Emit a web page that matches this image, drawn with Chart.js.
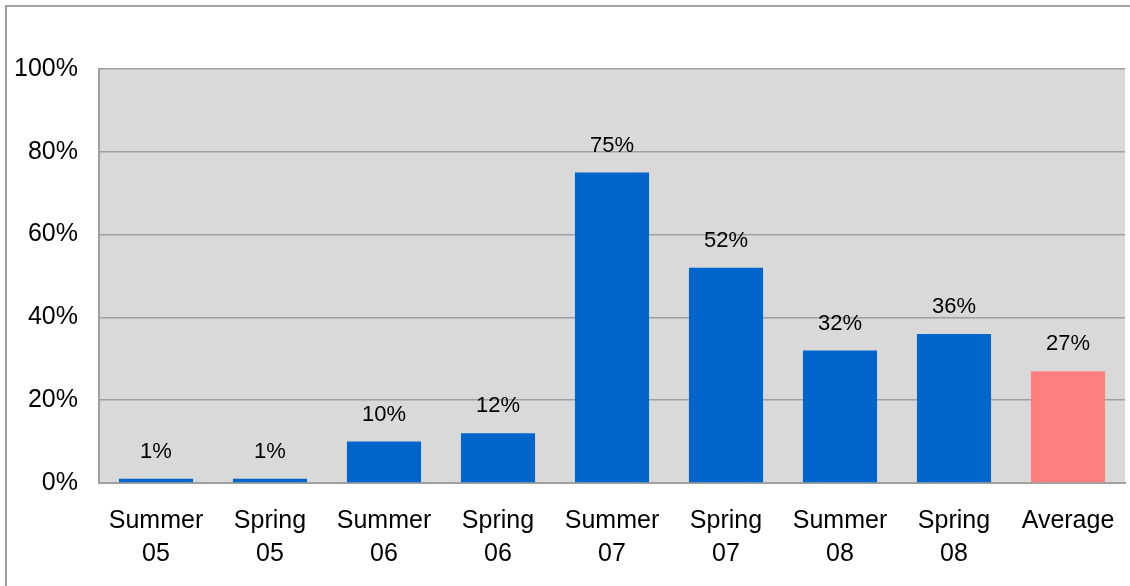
<!DOCTYPE html>
<html>
<head>
<meta charset="utf-8">
<script src="https://cdn.jsdelivr.net/npm/chart.js@4.4.0/dist/chart.umd.min.js"></script>
<style>
  html, body { margin: 0; padding: 0; background: #fff; }
  #wrap { position: relative; width: 1130px; height: 586px; }
</style>
</head>
<body>
<div id="wrap"><canvas id="chart" width="1130" height="586"></canvas></div>
<script>
const categories = [["Summer", "05"], ["Spring", "05"], ["Summer", "06"], ["Spring", "06"],
  ["Summer", "07"], ["Spring", "07"], ["Summer", "08"], ["Spring", "08"], "Average"];
const values = [1, 1, 10, 12, 75, 52, 32, 36, 27];
const barColors = ["#0066cc", "#0066cc", "#0066cc", "#0066cc", "#0066cc",
  "#0066cc", "#0066cc", "#0066cc", "#ff7f7f"];
const yTicks = [0, 20, 40, 60, 80, 100];

const fontFamily = "'Liberation Sans', Arial, sans-serif";

// grey plot background + outer frame
const backdrop = {
    id: "backdrop",
    beforeDraw(chart) {
        const { ctx, chartArea: a } = chart;
        ctx.save();
        ctx.fillStyle = "#d9d9d9";
        ctx.fillRect(a.left, a.top, a.right - a.left, a.bottom - a.top);
        ctx.strokeStyle = "#a0a0a0";
        ctx.lineWidth = 2;
        ctx.beginPath();
        ctx.moveTo(6, 600);
        ctx.lineTo(6, 6);
        ctx.lineTo(1140, 6);
        ctx.stroke();
        ctx.restore();
    }
};

// percent labels above bars
const barLabels = {
    id: "barLabels",
    afterDatasetsDraw(chart) {
        const { ctx } = chart;
        const meta = chart.getDatasetMeta(0);
        ctx.save();
        ctx.font = "22px " + fontFamily;
        ctx.fillStyle = "#000";
        ctx.textAlign = "center";
        ctx.textBaseline = "bottom";
        meta.data.forEach((bar, i) => {
            ctx.fillText(values[i] + "%", bar.x, bar.y - 16);
        });
        ctx.restore();
    }
};

new Chart(document.getElementById("chart"), {
    type: "bar",
    data: {
        labels: categories,
        datasets: [{
            data: values,
            backgroundColor: barColors,
            categoryPercentage: 1,
            barPercentage: 0.65
        }]
    },
    options: {
        responsive: false,
        animation: false,
        layout: { padding: { left: 0, right: 5, top: 69, bottom: 0 } },
        plugins: { legend: { display: false }, tooltip: { enabled: false } },
        scales: {
            x: {
                grid: { display: false, drawTicks: false },
                border: { color: "#a0a0a0", width: 2 },
                ticks: {
                    color: "#000",
                    font: { family: fontFamily, size: 25, lineHeight: 1.32 },
                    padding: 22,
                    maxRotation: 0,
                    autoSkip: false
                },
                afterFit(scale) {
                    scale.height = 586 - 483;
                    scale.paddingLeft = 0;
                    scale.paddingRight = 0;
                }
            },
            y: {
                min: 0,
                max: 100,
                afterBuildTicks(scale) { scale.ticks = yTicks.map(v => ({ value: v })); },
                grid: { color: "#a0a0a0", lineWidth: 1.5, drawTicks: false },
                border: { color: "#a0a0a0", width: 2 },
                ticks: {
                    color: "#000",
                    font: { family: fontFamily, size: 25 },
                    padding: 21,
                    callback: v => v + "%"
                },
                afterFit(scale) {
                    scale.width = 99;
                    scale.paddingTop = 0;
                    scale.paddingBottom = 0;
                }
            }
        }
    },
    plugins: [backdrop, barLabels]
});
</script>
</body>
</html>
